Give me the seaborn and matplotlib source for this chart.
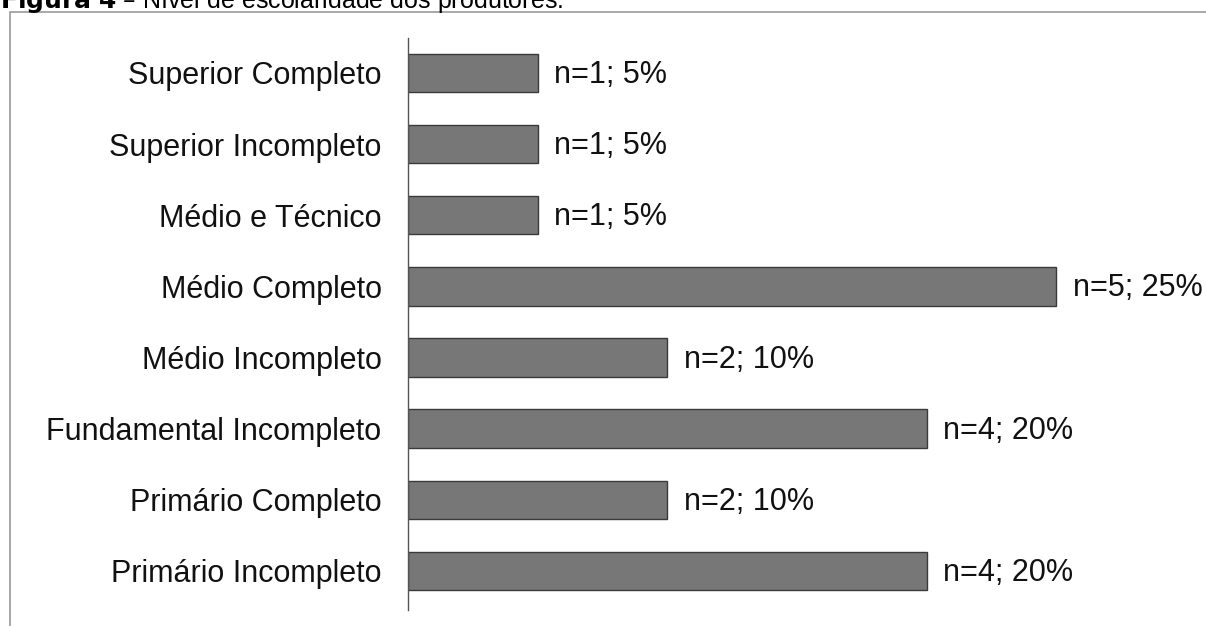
import pandas as pd
import seaborn as sns
import matplotlib.pyplot as plt
from matplotlib.patches import Rectangle

# data
categorias = ["Superior Completo", "Superior Incompleto", "Médio e Técnico",
              "Médio Completo", "Médio Incompleto", "Fundamental Incompleto",
              "Primário Completo", "Primário Incompleto"]
n_produtores = [1, 1, 1, 5, 2, 4, 2, 4]
percentuais = [5, 5, 5, 25, 10, 20, 10, 20]

df = pd.DataFrame({"categoria": categorias, "n": n_produtores, "pct": percentuais})

sns.set_style("white")
plt.rcParams['font.family'] = ['Liberation Sans', 'DejaVu Sans']

fig = plt.figure(figsize=(12.06, 6.26), dpi=100, facecolor="white")
ax = fig.add_axes([408 / 1206, 16 / 626, 778 / 1206, 572 / 626])

sns.barplot(data=df, x="n", y="categoria", orient="h", color="#777777",
            edgecolor="#3a3a3a", linewidth=1, width=0.54, saturation=1, ax=ax)

# labels next to each bar
for i, row in df.iterrows():
    ax.annotate(f"n={row['n']}; {row['pct']}%", xy=(row["n"], i),
                xytext=(12, -1.5), textcoords="offset points",
                va="center", ha="left", fontsize=22, color="#111111")

ax.set_xlim(0, 6)
ax.set_ylim(7.55, -0.49)
ax.set_xlabel("")
ax.set_ylabel("")
ax.set_xticks([])
for s in ["top", "right", "bottom"]:
    ax.spines[s].set_visible(False)
ax.spines["left"].set_color("#555555")
ax.spines["left"].set_linewidth(1)
ax.tick_params(axis="y", length=0, pad=19, labelsize=22, labelcolor="#111111")

# frame around the figure, cut on the right and bottom
fig.patches.append(Rectangle((10 / 1206, -0.1), 1.2, 1 - 12 / 626 + 0.1,
                             transform=fig.transFigure, fill=False,
                             edgecolor="#999999", linewidth=1.2))

# caption cut at the top of the picture
fig.text(0, 1 - 8 / 626, r"$\bf{Figura\ 4}$ – Nível de escolaridade dos produtores.",
         fontsize=18, va="baseline", ha="left", color="#000000")

fig.savefig("out.png", dpi=100, facecolor="white")
